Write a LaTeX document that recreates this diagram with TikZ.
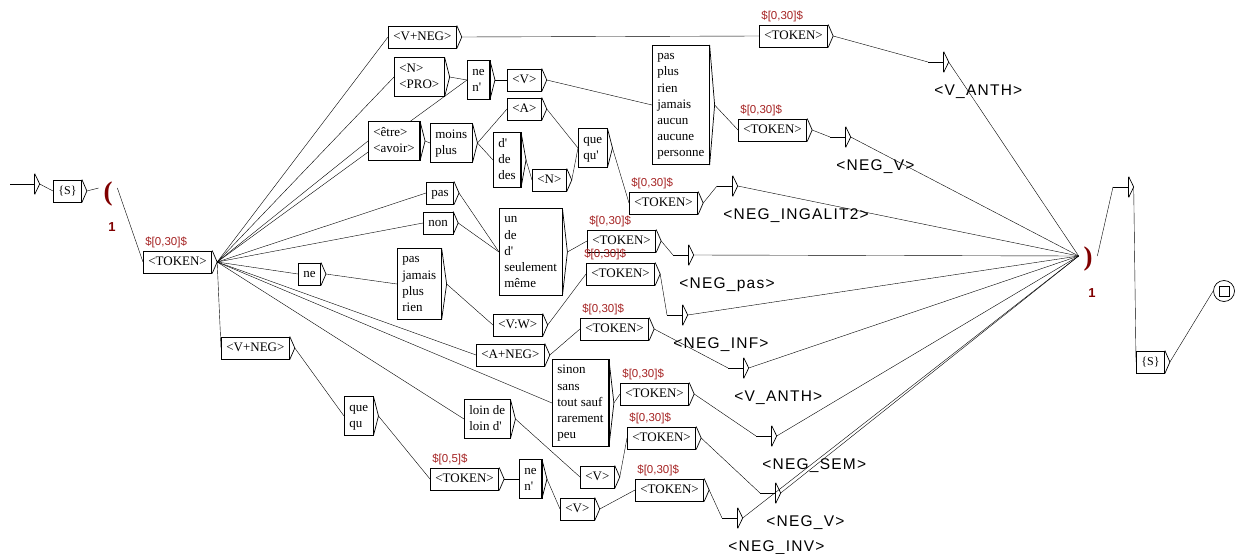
\documentclass[tikz,border=0pt]{standalone}
\usepackage{fontspec}
\newfontfamily\boxfont{Liberation Serif}
\newfontfamily\outfont[LetterSpace=8]{Liberation Sans}
\newfontfamily\regfont{Liberation Sans}
\usetikzlibrary{backgrounds,positioning}
\definecolor{parred}{RGB}{128,0,0}
\definecolor{regred}{RGB}{165,35,35}

\newcommand\conn[2]{\draw ([xshift=5pt]#1.east) -- (#2.west);}

\tikzset{
  box/.style={draw, fill=white, anchor=west, align=left, inner xsep=5pt, inner ysep=3pt,
    font=\boxfont\fontsize{13}{16.2}\selectfont,
    append after command={(\tikzlastnode.north east) edge ([xshift=5pt]\tikzlastnode.east)
      ([xshift=5pt]\tikzlastnode.east) edge (\tikzlastnode.south east)}},
  multi/.style={append after command={(\tikzlastnode.north east) edge[line width=1.6pt] (\tikzlastnode.south east)}},
  outbox/.style={inner sep=0pt, minimum width=15pt, minimum height=20pt, anchor=west,
    append after command={(\tikzlastnode.west) edge (\tikzlastnode.east)
      (\tikzlastnode.north east) edge ([xshift=5pt]\tikzlastnode.east)
      ([xshift=5pt]\tikzlastnode.east) edge (\tikzlastnode.south east)
      (\tikzlastnode.south east) edge (\tikzlastnode.north east)}},
  outlab/.style={anchor=base west, inner sep=0pt, font=\outfont\fontsize{15.5}{16}\selectfont},
  reg/.style={anchor=base west, inner sep=0pt, text=regred, font=\regfont\fontsize{11.5}{12}\selectfont},
  paren/.style={inner xsep=4.5pt, inner ysep=0pt, text=parred, font=\boxfont\bfseries\fontsize{27}{27}\selectfont},
  pnum/.style={inner sep=0pt, text=parred, font=\regfont\bfseries\fontsize{13}{13}\selectfont},
}

\begin{document}
\begin{tikzpicture}[x=1pt, y=-1pt, line width=0.7pt]
\useasboundingbox (0,0) rectangle (1235,554);

% start of the graph
\node[outbox, minimum width=24pt] (init) at (10,184) {};
\node[box, font=\boxfont\fontsize{12}{16.2}\selectfont] (sA) at (53,191) {\strut\{S\}};
\node[paren] (popen) at (108,194) {(};
\node[pnum] (popenn) at (112,227) {1};
\node[box] (tokA) at (143,262) {\strut<TOKEN>};
\node[reg] (tokAr) at ([xshift=2pt,yshift=5pt]tokA.north west) {\$[0,30]\$};

% upper branches
\node[box] (vnegA) at (388,37) {\strut<V+NEG>};
\node[box] (tokTop) at (759,36) {\strut<TOKEN>};
\node[reg] (tokTopr) at ([xshift=2pt,yshift=5pt]tokTop.north west) {\$[0,30]\$};
\node[box, multi] (npro) at (394,77) {\strut<N>\\<PRO>\strut};
\node[box, multi] (nenA) at (467,80) {\strut ne\\n'\strut};
\node[box] (verbA) at (507,80) {\strut<V>};
\node[box, multi] (pasplus) at (652,105) {\strut pas\\plus\\rien\\jamais\\aucun\\aucune\\personne\strut};
\node[box] (tokB) at (738,130) {\strut<TOKEN>};
\node[reg] (tokBr) at ([xshift=2pt,yshift=5pt]tokB.north west) {\$[0,30]\$};
\node[box, multi] (etre) at (368,141) {\strut<être>\\<avoir>\strut};
\node[box, multi] (moins) at (430,143) {\strut moins\\plus\strut};
\node[box] (adj) at (507,109) {\strut<A>};
\node[box, multi] (dde) at (493,160) {\strut d'\\de\\des\strut};
\node[box] (nom) at (532,180) {\strut<N>};
\node[box, multi] (queA) at (578,148) {\strut que\\qu'\strut};
\node[box] (tokC) at (629,203) {\strut<TOKEN>};
\node[reg] (tokCr) at ([xshift=2pt,yshift=5pt]tokC.north west) {\$[0,30]\$};

% middle branches
\node[box] (pasA) at (426,193) {\strut pas};
\node[box] (nonA) at (423,223) {\strut non};
\node[box, multi] (unde) at (499,252) {\strut un\\de\\d'\\seulement\\même\strut};
\node[box] (tokD) at (587,241) {\strut<TOKEN>};
\node[reg] (tokDr) at ([xshift=2pt,yshift=5pt]tokD.north west) {\$[0,30]\$};
\node[box] (neA) at (298,274) {\strut ne};
\node[box, multi] (pasjam) at (397,284) {\strut pas\\jamais\\plus\\rien\strut};
\node[box] (vw) at (493,325) {\strut<V:W>};
\node[box] (tokE) at (586,274) {\strut<TOKEN>};
\node[reg] (tokEr) at ([xshift=-2pt,yshift=5pt]tokE.north west) {\$[0,30]\$};
\node[box] (aneg) at (476,355) {\strut<A+NEG>};
\node[box] (tokF) at (580,329) {\strut<TOKEN>};
\node[reg] (tokFr) at ([xshift=2pt,yshift=5pt]tokF.north west) {\$[0,30]\$};

% lower branches
\node[box, multi] (sinon) at (552,403) {\strut sinon\\sans\\tout sauf\\rarement\\peu\strut};
\node[box] (tokG) at (620,394) {\strut<TOKEN>};
\node[reg] (tokGr) at ([xshift=2pt,yshift=5pt]tokG.north west) {\$[0,30]\$};
\node[box, multi] (loin) at (464,419) {\strut loin de\\loin d'\strut};
\node[box] (verbB) at (580,477) {\strut<V>};
\node[box] (tokH) at (627,438) {\strut<TOKEN>};
\node[reg] (tokHr) at ([xshift=2pt,yshift=5pt]tokH.north west) {\$[0,30]\$};
\node[box] (vnegB) at (221,348) {\strut<V+NEG>};
\node[box, multi] (queB) at (344,416) {\strut que\\qu\strut};
\node[box] (tokV) at (430,479) {\strut<TOKEN>};
\node[reg] (tokVr) at ([xshift=2pt,yshift=5pt]tokV.north west) {\$[0,5]\$};
\node[box, multi] (nenB) at (519,479) {\strut ne\\n'\strut};
\node[box] (verbC) at (560,509) {\strut<V>};
\node[box] (tokI) at (635,490) {\strut<TOKEN>};
\node[reg] (tokIr) at ([xshift=2pt,yshift=5pt]tokI.north west) {\$[0,30]\$};

% outputs
\node[outbox] (oVanthA) at (928,62) {};
\node[outlab] (oVanthAl) at ([xshift=6pt,yshift=-33pt]oVanthA.west) {<V\_ANTH>};
\node[outbox] (oNegVA) at (830,137) {};
\node[outlab] (oNegVAl) at ([xshift=6pt,yshift=-33pt]oNegVA.west) {<NEG\_V>};
\node[outbox] (oIngal) at (717,186) {};
\node[outlab] (oIngall) at ([xshift=6pt,yshift=-33pt]oIngal.west) {<NEG\_INGALIT2>};
\node[outbox] (oPas) at (673,255) {};
\node[outlab] (oPasl) at ([xshift=6pt,yshift=-33pt]oPas.west) {<NEG\_pas>};
\node[outbox] (oInf) at (667,315) {};
\node[outlab] (oInfl) at ([xshift=6pt,yshift=-33pt]oInf.west) {<NEG\_INF>};
\node[outbox] (oVanthB) at (728,368) {};
\node[outlab] (oVanthBl) at ([xshift=6pt,yshift=-33pt]oVanthB.west) {<V\_ANTH>};
\node[outbox] (oSem) at (756,436) {};
\node[outlab] (oSeml) at ([xshift=6pt,yshift=-33pt]oSem.west) {<NEG\_SEM>};
\node[outbox] (oNegVB) at (760,493) {};
\node[outlab] (oNegVBl) at ([xshift=6pt,yshift=-33pt]oNegVB.west) {<NEG\_V>};
\node[outbox] (oInv) at (722,518) {};
\node[outlab] (oInvl) at ([xshift=6pt,yshift=-33pt]oInv.west) {<NEG\_INV>};

% end of the graph
\node[paren] (pclose) at (1088,259) {)};
\node[pnum] (pclosen) at (1092,293) {1};
\node[outbox] (oEps) at (1113,187) {};
\node[box, font=\boxfont\fontsize{12}{16.2}\selectfont] (sB) at (1136,362) {\strut\{S\}};
\node[draw, circle, minimum size=21pt, inner sep=0pt] (fin) at (1224,291) {};
\node[draw, minimum size=10pt, inner sep=0pt] (finsq) at (fin.center) {};

\begin{scope}[on background layer]
\conn{init}{sA}
\draw ([xshift=5pt]sA.east) -- ([yshift=6pt]popen.west);
\draw ([yshift=6pt]popen.east) -- (tokA.west);
\foreach \t in {vnegA,npro,nenA,etre,pasA,nonA,neA,vnegB,aneg,sinon,loin}
  {\conn{tokA}{\t}}
\conn{vnegA}{tokTop}
\conn{tokTop}{oVanthA}
\conn{npro}{nenA}
\conn{nenA}{verbA}
\conn{verbA}{pasplus}
\conn{pasplus}{tokB}
\conn{tokB}{oNegVA}
\conn{etre}{moins}
\conn{moins}{adj}
\conn{moins}{dde}
\conn{adj}{queA}
\conn{dde}{nom}
\conn{nom}{queA}
\conn{queA}{tokC}
\conn{tokC}{oIngal}
\conn{pasA}{unde}
\conn{nonA}{unde}
\conn{unde}{tokD}
\conn{tokD}{oPas}
\conn{neA}{pasjam}
\conn{pasjam}{vw}
\conn{vw}{tokE}
\conn{tokE}{oInf}
\conn{aneg}{tokF}
\conn{tokF}{oVanthB}
\conn{sinon}{tokG}
\conn{tokG}{oSem}
\conn{loin}{verbB}
\conn{verbB}{tokH}
\conn{tokH}{oNegVB}
\conn{vnegB}{queB}
\conn{queB}{tokV}
\conn{tokV}{nenB}
\conn{nenB}{verbC}
\conn{verbC}{tokI}
\conn{tokI}{oInv}
\foreach \o in {oVanthA,oNegVA,oIngal,oPas,oInf,oVanthB,oSem,oNegVB,oInv}
  {\draw ([xshift=5pt]\o.east) -- ([yshift=3pt]pclose.west);}
\draw ([yshift=3pt]pclose.east) -- (oEps.west);
\conn{oEps}{sB}
\conn{sB}{fin}
\end{scope}
\end{tikzpicture}
\end{document}
